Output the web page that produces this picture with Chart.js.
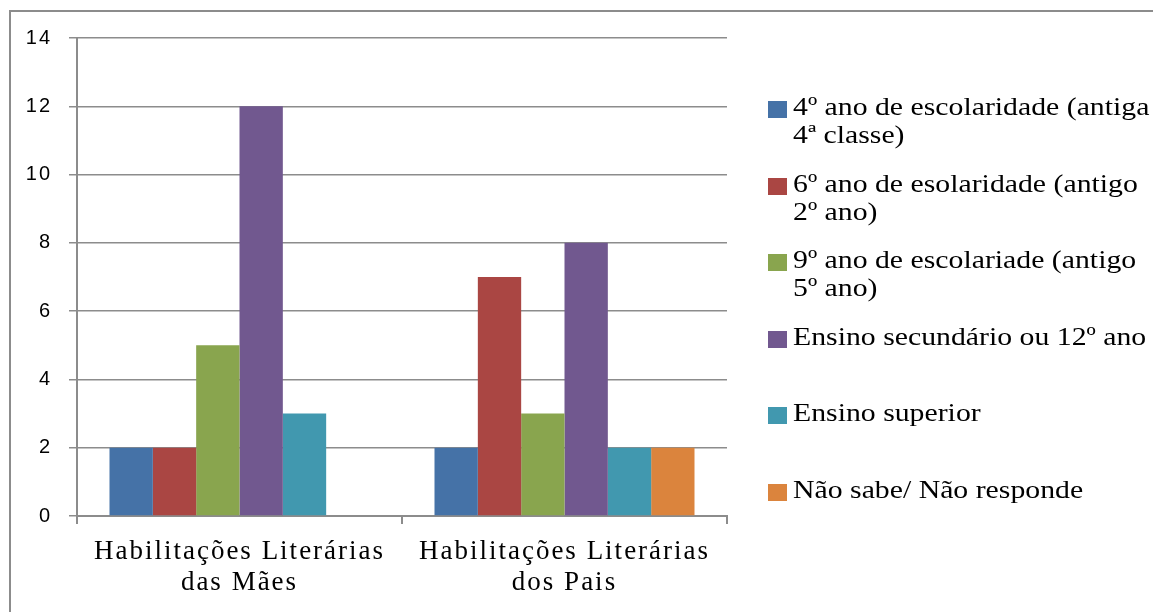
<!DOCTYPE html>
<html>
<head>
<meta charset="utf-8">
<script src="https://cdn.jsdelivr.net/npm/chart.js@4"></script>
<style>
  html, body { margin: 0; padding: 0; background: #fff; }
  #wrap { position: relative; width: 1153px; height: 612px; overflow: hidden; }
  #moldura { position: absolute; left: 9px; top: 10px; width: 1200px; height: 700px;
             border-top: 2px solid #8c8c8c; border-left: 2px solid #8c8c8c; }
  #grafico { position: absolute; left: 0; top: 0; }
  #legenda { position: absolute; left: 768px; top: 0; font-family: "Liberation Serif", "Times New Roman", serif;
             font-size: 26px; color: #000; }
  .item { position: absolute; left: 0; white-space: nowrap; }
  .cor { position: absolute; left: 0; top: 0; width: 19px; height: 17px; }
  .texto { position: absolute; left: 25px; top: -8px; line-height: 28px;
           transform: scaleX(1.145); transform-origin: left top; }
</style>
</head>
<body>
<div id="wrap">
  <div id="moldura"></div>
  <canvas id="grafico" width="1153" height="612"></canvas>
  <div id="legenda"></div>
</div>
<script>
// categorias (eixo X)
const categorias = [
    ["Habilitações Literárias", "das Mães"],
    ["Habilitações Literárias", "dos Pais"]
];

// séries
const series = [
    "4º ano de escolaridade (antiga 4ª classe)",
    "6º ano de esolaridade (antigo 2º ano)",
    "9º ano de escolariade (antigo 5º ano)",
    "Ensino secundário ou 12º ano",
    "Ensino superior",
    "Não sabe/ Não responde"
];

// linhas da legenda (quebra como no original)
const linhasLegenda = [
    ["4º ano de escolaridade (antiga", "4ª classe)"],
    ["6º ano de esolaridade (antigo", "2º ano)"],
    ["9º ano de escolariade (antigo", "5º ano)"],
    ["Ensino secundário ou 12º ano"],
    ["Ensino superior"],
    ["Não sabe/ Não responde"]
];

// valores: [Mães, Pais]
const quartoAno = [2, 2];
const sextoAno = [2, 7];
const nonoAno = [5, 3];
const secundario = [12, 8];
const superior = [3, 2];
const naoSabe = [0, 2];

const valores = [quartoAno, sextoAno, nonoAno, secundario, superior, naoSabe];
const cores = ["#4572A7", "#AA4643", "#89A54E", "#71588F", "#4198AF", "#DB843D"];

const cinza = "#8c8c8c";

// texto um pouco mais largo, como no original
const espacamento = {
    id: "espacamento",
    beforeDraw(chart) { chart.ctx.letterSpacing = "2px"; }
};

new Chart(document.getElementById("grafico"), {
    type: "bar",
    data: {
        labels: categorias,
        datasets: series.map((nome, i) => ({
            label: nome,
            data: valores[i],
            backgroundColor: cores[i],
            borderWidth: 0,
            categoryPercentage: 0.8,
            barPercentage: 1.0
        }))
    },
    plugins: [espacamento],
    options: {
        responsive: false,
        animation: false,
        layout: { padding: { top: 38, right: 426, left: 0, bottom: 0 } },
        plugins: {
            legend: { display: false },
            tooltip: { enabled: false }
        },
        scales: {
            x: {
                offset: true,
                grid: { display: true, drawOnChartArea: false, color: cinza, lineWidth: 2, tickLength: 8, offset: true },
                border: { color: cinza, width: 2 },
                ticks: {
                    color: "#000",
                    padding: 12,
                    font: { family: "'Liberation Serif', 'Times New Roman', serif", size: 27, lineHeight: 1.15 }
                },
                afterFit: s => { s.height = 96; }
            },
            y: {
                min: 0,
                max: 14,
                ticks: {
                    stepSize: 2,
                    color: "#000",
                    padding: 17,
                    font: { family: "'Liberation Sans', Arial, sans-serif", size: 20 }
                },
                grid: { color: cinza, lineWidth: 1.5, tickLength: 8 },
                border: { color: cinza, width: 2 },
                afterFit: s => { s.width = 77; }
            }
        }
    }
});

// legenda em HTML
const legenda = document.getElementById("legenda");
linhasLegenda.forEach((linhas, i) => {
    const item = document.createElement("div");
    item.className = "item";
    item.style.top = (101 + i * 76.6) + "px";
    item.innerHTML = `<div class="cor" style="background:${cores[i]}"></div>` +
        `<div class="texto">${linhas.join("<br>")}</div>`;
    legenda.appendChild(item);
});
</script>
</body>
</html>
